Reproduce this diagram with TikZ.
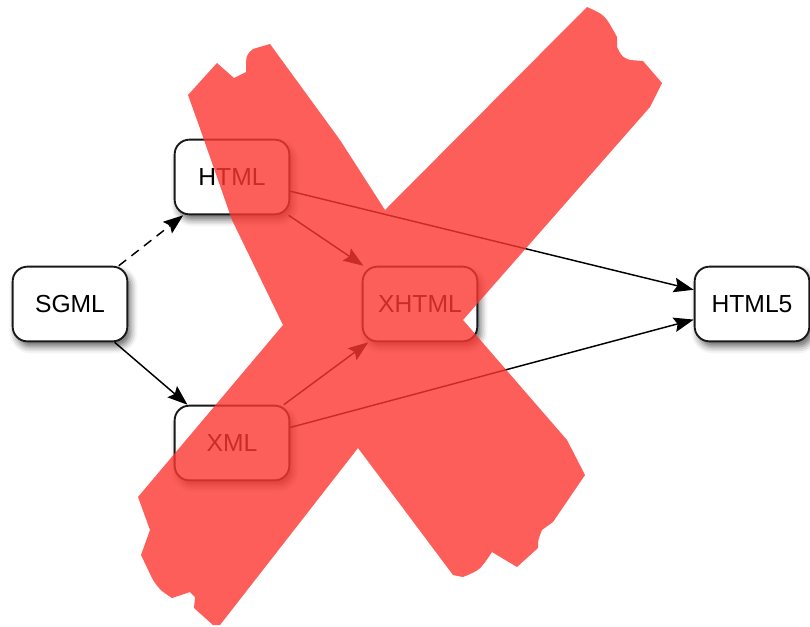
\documentclass[tikz,border=0pt]{standalone}
\usepackage{fontspec}
\setmainfont{Liberation Sans}
\usetikzlibrary{arrows.meta,shadows.blur}
\definecolor{xred}{RGB}{252,54,48}
\begin{document}
\begin{tikzpicture}[x=0.75pt,y=-0.75pt,
  box/.style={draw=black!90, line width=1.4pt, rounded corners=11pt, fill=white,
    minimum width=86pt, minimum height=56pt, inner sep=0pt,
    font=\fontsize{18.5}{20}\selectfont,
    blur shadow={shadow xshift=2.5pt, shadow yshift=-4pt, shadow blur radius=5pt, shadow opacity=60}},
  arr/.style={line width=1.1pt, -{Stealth[length=15pt,width=11pt,inset=2.5pt]}}]
\useasboundingbox (0,0) rectangle (810,626);
\node[box] (sgml) at (70,304) {SGML};
\node[box] (html) at (232,177) {HTML};
\node[box] (xhtml) at (420,304) {XHTML};
\node[box] (html5) at (752,304) {HTML5};
\node[box] (xml) at (232,443) {XML};
\draw[arr, dash pattern=on 7pt off 5pt] (sgml) -- (html);
\draw[arr] (sgml) -- (xml);
\draw[arr] (html) -- (xhtml);
\draw[arr] (html) -- (html5);
\draw[arr] (xml) -- (xhtml);
\draw[arr] (xml) -- (html5);
% the red X
\fill[xred, fill opacity=0.8]
  (188,95) -- (217,63) -- (234,78) -- (246,72) .. controls (246,55) .. (253,49) -- (270,44)
  -- (340,140) -- (385,210)
  -- (587,7) .. controls (605,15) .. (617,37) -- (617,47) .. controls (622,57) .. (630,60) -- (643,61) -- (662,83) -- (650,107)
  -- (463,320)
  -- (567,440) -- (585,475) -- (553,522) -- (542,530) .. controls (538,540) .. (538,548) -- (517,567)
  -- (492,552) .. controls (480,570) .. (463,577) -- (453,575)
  -- (358,448)
  -- (220,625) -- (213,625) -- (194,608) -- (195,597) -- (190,592) -- (172,598)
  .. controls (160,590) .. (153,580) -- (141,555) -- (150,530) -- (138,497)
  -- (283,325)
  -- (232,220) -- (197,120) -- cycle;
\end{tikzpicture}
\end{document}
